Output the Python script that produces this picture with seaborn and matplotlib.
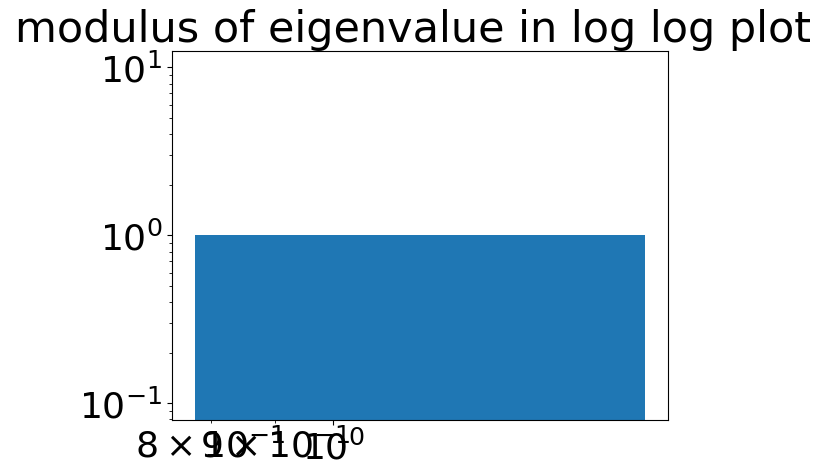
import matplotlib
matplotlib.use('Agg')
import matplotlib.pyplot as plt
import seaborn as sns

# bar data (log-log axes)
bar_left = [0.777]
bar_width = [0.99]
bar_height = [1.0]

# keep matplotlib's classic look, just borrow the seaborn palette
sns.reset_orig()
plt.rcParams['font.family'] = ['DejaVu Sans']
plt.rcParams['font.size'] = 26

fig = plt.figure(figsize=(8.38, 4.77), dpi=100)
ax = fig.add_axes([172 / 838, 56 / 477, 496 / 838, 369.5 / 477])

ax.bar(bar_left, bar_height, width=bar_width, align='edge', color=sns.color_palette()[0])
ax.set_xscale('log')
ax.set_yscale('log')

ax.set_title('modulus of eigenvalue in log log plot', fontsize=31, x=0.4855)

fig.savefig('out.png', dpi=100)
